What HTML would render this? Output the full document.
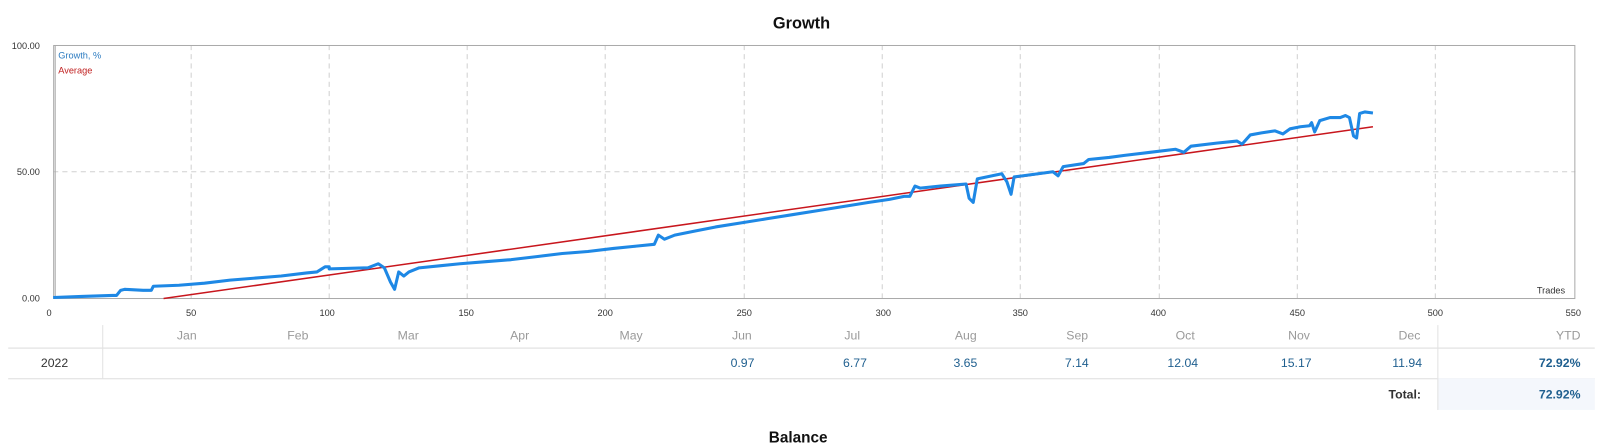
<!DOCTYPE html>
<html><head><meta charset="utf-8"><style>
body{margin:0;background:#fff;width:1603px;height:439px;overflow:hidden;position:relative;font-family:"Liberation Sans","DejaVu Sans",sans-serif}
#w{position:absolute;left:0;top:0;width:1568px;height:430px;transform:scale(1.0223);transform-origin:0 0}
.t{position:absolute;white-space:nowrap}
.m{color:#9a9a9a;font-size:12px;top:321px}
.v{color:#1f5f8f;font-size:12px;top:348px}
</style></head><body><div id="w">
<div class="t" style="left:0;width:1568px;top:15px;text-align:center;font-weight:bold;font-size:16px;color:#111">Growth</div>
<svg width="1568" height="310" style="position:absolute;left:0;top:0" font-family="Liberation Sans, sans-serif">
<g stroke="#d0d0d0" stroke-dasharray="5,4" stroke-width="1">
<line x1="187" y1="44" x2="187" y2="292"/><line x1="322" y1="44" x2="322" y2="292"/><line x1="457" y1="44" x2="457" y2="292"/><line x1="592" y1="44" x2="592" y2="292"/><line x1="728" y1="44" x2="728" y2="292"/><line x1="863" y1="44" x2="863" y2="292"/><line x1="998" y1="44" x2="998" y2="292"/><line x1="1134" y1="44" x2="1134" y2="292"/><line x1="1269" y1="44" x2="1269" y2="292"/><line x1="1404" y1="44" x2="1404" y2="292"/>
<line x1="52" y1="168" x2="1541" y2="168"/>
</g>
<rect x="52.5" y="44.5" width="1488" height="247.5" fill="none" stroke="#aaa"/>
<line x1="54" y1="44" x2="54" y2="292" stroke="#aaa"/>
<text x="57" y="57" font-size="9" fill="#2a7ac0">Growth, %</text>
<text x="57" y="72" font-size="9" fill="#c02020">Average</text>
<g font-size="9" fill="#333">
<text x="39" y="48" text-anchor="end">100.00</text><text x="39" y="171" text-anchor="end">50.00</text><text x="39" y="295" text-anchor="end">0.00</text>
<text x="48" y="309" text-anchor="middle">0</text><text x="187" y="309" text-anchor="middle">50</text><text x="320" y="309" text-anchor="middle">100</text><text x="456" y="309" text-anchor="middle">150</text><text x="592" y="309" text-anchor="middle">200</text><text x="728" y="309" text-anchor="middle">250</text><text x="864" y="309" text-anchor="middle">300</text><text x="998" y="309" text-anchor="middle">350</text><text x="1133" y="309" text-anchor="middle">400</text><text x="1269" y="309" text-anchor="middle">450</text><text x="1404" y="309" text-anchor="middle">500</text><text x="1539" y="309" text-anchor="middle">550</text>
<text x="1531" y="287" text-anchor="end">Trades</text>
</g>
<line x1="160" y1="292" x2="1343" y2="124" stroke="#c8161d" stroke-width="1.5"/>
<polyline fill="none" stroke="#1e88e5" stroke-width="3" stroke-linejoin="round" points="52,291 80,290 110,289 114,289 118,284 122,283 140,284 148,284 150,280 175,279 200,277 225,274 250,272 275,270 300,267 310,266 318,261 322,261 322,263 360,262 370,258 376,262 382,276 386,283 390,266 395,270 400,266 410,262 430,260 450,258 475,256 500,254 525,251 550,248 575,246 600,243 620,241 640,239 644,230 650,234 660,230 680,226 700,222 725,218 750,214 775,210 800,206 825,202 850,198 870,195 885,192 890,192 895,182 900,184 920,182 945,180 948,194 952,198 956,175 980,170 985,178 989,190 992,173 1000,172 1030,168 1035,172 1040,163 1060,160 1065,156 1085,154 1100,152 1125,149 1150,146 1158,149 1165,143 1190,140 1210,138 1215,141 1223,132 1234,130 1247,128 1255,131 1262,126 1272,124 1281,123 1283,120 1286,129 1291,118 1301,115 1311,115 1316,113 1320,115 1324,133 1327,135 1330,111 1335,109.5 1343,110.5"/>
</svg>
<div style="position:absolute;left:8px;top:340px;width:1552px;height:1px;background:#ddd"></div>
<div style="position:absolute;left:8px;top:370px;width:1552px;height:1px;background:#ddd"></div>
<div style="position:absolute;left:100px;top:318px;width:1px;height:52px;background:#e2e2e2"></div>
<div style="position:absolute;left:1406px;top:370px;width:154px;height:31px;background:#f4f7fc"></div>
<div style="position:absolute;left:1406px;top:318px;width:1px;height:83px;background:#e2e2e2"></div>
<div class="t m" style="left:173px">Jan</div><div class="t m" style="left:281px">Feb</div><div class="t m" style="left:389px">Mar</div><div class="t m" style="left:499px">Apr</div><div class="t m" style="left:606px">May</div><div class="t m" style="left:716px">Jun</div><div class="t m" style="left:826px">Jul</div><div class="t m" style="left:934px">Aug</div><div class="t m" style="left:1043px">Sep</div><div class="t m" style="left:1150px">Oct</div><div class="t m" style="left:1260px">Nov</div><div class="t m" style="left:1368px">Dec</div>
<div class="t m" style="right:22px">YTD</div>
<div class="t" style="left:40px;top:348px;font-size:12px;color:#333">2022</div>
<div class="t v" style="right:830px">0.97</div><div class="t v" style="right:720px">6.77</div><div class="t v" style="right:612px">3.65</div><div class="t v" style="right:503px">7.14</div><div class="t v" style="right:396px">12.04</div><div class="t v" style="right:285px">15.17</div><div class="t v" style="right:177px">11.94</div>
<div class="t v" style="right:22px;font-weight:bold">72.92%</div>
<div class="t" style="right:178px;top:379px;font-size:12px;font-weight:bold;color:#333">Total:</div>
<div class="t v" style="right:22px;top:379px;font-weight:bold">72.92%</div>
<div class="t" style="left:752px;top:420px;font-size:15px;font-weight:bold;color:#111">Balance</div>
</div></body></html>
